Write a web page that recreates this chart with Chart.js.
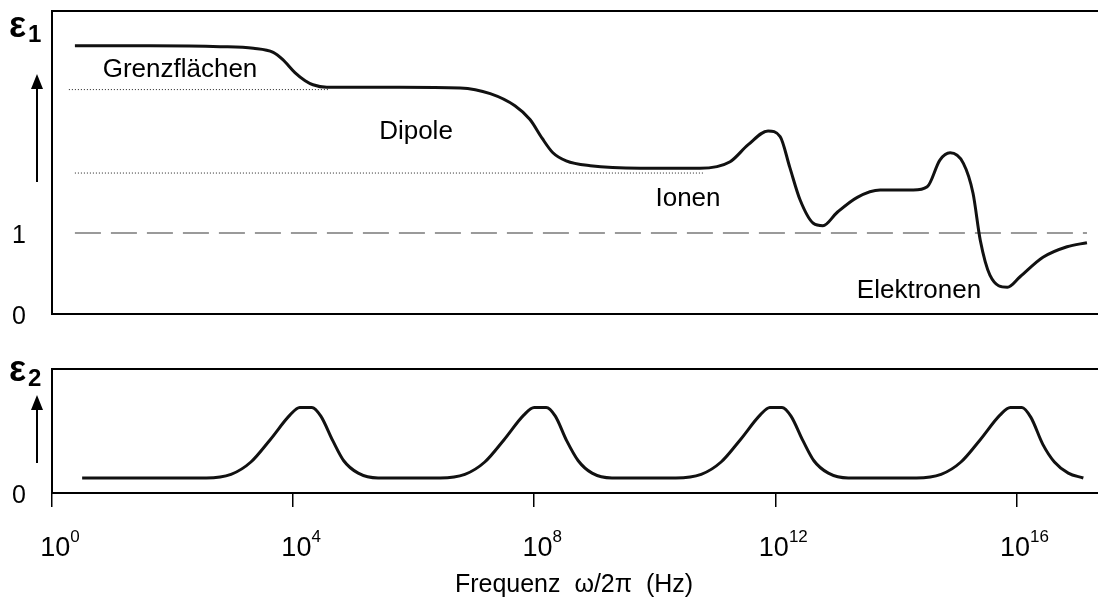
<!DOCTYPE html>
<html>
<head>
<meta charset="utf-8">
<script src="https://cdn.jsdelivr.net/npm/chart.js@4.4.1/dist/chart.umd.min.js"></script>
<style>
 html, body { margin: 0; padding: 0; background: #fff; overflow: hidden; }
 #wrap { position: relative; width: 1098px; height: 610px; }
 canvas { position: absolute; left: 0; }
 #eps1Chart { top: 0; }
 #eps2Chart { top: 330px; }
</style>
</head>
<body>
<div id="wrap">
 <canvas id="eps1Chart" width="1098" height="330"></canvas>
 <canvas id="eps2Chart" width="1098" height="280"></canvas>
</div>
<script>
// x values are log10 of the frequency in Hz
const xTicks = [0, 4, 8, 12, 16];

// real part eps1
const eps1X = [0.38, 1.63, 2.79, 3.34, 3.67, 3.83, 4.03, 4.20, 4.33, 4.56, 5.77, 6.77, 7.27, 7.68, 7.93, 8.13, 8.31, 8.53, 8.93, 9.76, 10.75, 11.25, 11.55, 11.88, 12.08, 12.24, 12.41, 12.63, 12.79, 13.02, 13.36, 13.74, 14.29, 14.52, 14.73, 14.90, 15.12, 15.28, 15.40, 15.56, 15.85, 16.06, 16.44, 16.84, 17.17];
const eps1Y = [3.31, 3.31, 3.30, 3.28, 3.23, 3.14, 2.98, 2.88, 2.83, 2.80, 2.80, 2.79, 2.72, 2.57, 2.40, 2.17, 1.99, 1.89, 1.83, 1.80, 1.80, 1.88, 2.09, 2.26, 2.19, 1.81, 1.41, 1.12, 1.09, 1.25, 1.44, 1.53, 1.53, 1.57, 1.90, 1.99, 1.86, 1.49, 0.91, 0.48, 0.33, 0.46, 0.70, 0.83, 0.88];

// dotted plateau levels and the eps = 1 line
const plateauLevels = [2.77, 1.74];
const plateauFrom = [0.28, 0.38];
const plateauTo = [4.61, 10.83];
const vacuumLevel = 1;
const vacuumRange = [0.38, 17.17];

// imaginary part eps2 (loss peaks)
const eps2X = [0.50,
 2.56, 2.97, 3.30, 3.62, 3.95, 4.11, 4.31, 4.46, 4.66, 4.84, 5.08, 5.41,
 6.44, 6.85, 7.18, 7.50, 7.83, 8.00, 8.20, 8.35, 8.54, 8.73, 8.96, 9.29,
 10.35, 10.77, 11.10, 11.42, 11.75, 11.91, 12.11, 12.26, 12.46, 12.64, 12.88, 13.21,
 14.34, 14.75, 15.08, 15.40, 15.73, 15.90, 16.09, 16.24, 16.44, 16.63, 16.86, 17.11];
const eps2Y = [0.121,
 0.121, 0.15, 0.25, 0.43, 0.63, 0.69, 0.69, 0.62, 0.42, 0.26, 0.16, 0.121,
 0.121, 0.15, 0.25, 0.43, 0.63, 0.69, 0.69, 0.62, 0.42, 0.26, 0.16, 0.121,
 0.121, 0.15, 0.25, 0.43, 0.63, 0.69, 0.69, 0.62, 0.42, 0.26, 0.16, 0.121,
 0.121, 0.15, 0.25, 0.43, 0.63, 0.69, 0.69, 0.61, 0.39, 0.25, 0.16, 0.121];

const mechanisms = [
 { text: "Grenzflächen", x: 180, y: 77 },
 { text: "Dipole", x: 416, y: 139 },
 { text: "Ionen", x: 688, y: 206 },
 { text: "Elektronen", x: 919, y: 298 },
];

const FONT = '"Liberation Sans", Arial, sans-serif';
const pts = (xs, ys) => xs.map((x, i) => ({ x: x, y: ys[i] }));

function arrow(ctx, x, yBottom, yTip) {
 ctx.beginPath();
 ctx.moveTo(x, yBottom);
 ctx.lineTo(x, yTip + 12);
 ctx.lineWidth = 2;
 ctx.stroke();
 ctx.beginPath();
 ctx.moveTo(x, yTip);
 ctx.lineTo(x - 6, yTip + 15);
 ctx.lineTo(x + 6, yTip + 15);
 ctx.closePath();
 ctx.fill();
}

function epsLabel(ctx, sub, x, y) {
 ctx.textAlign = "left";
 ctx.textBaseline = "alphabetic";
 ctx.font = "bold 36px " + FONT;
 ctx.fillText("ε", x, y);
 ctx.font = "bold 24px " + FONT;
 ctx.fillText(sub, x + 19, y + 5);
}

function frame(chart) {
 const { ctx, chartArea: a } = chart;
 ctx.strokeStyle = "#000";
 ctx.fillStyle = "#000";
 ctx.lineWidth = 2;
 ctx.beginPath();
 ctx.moveTo(chart.width + 2, a.top);
 ctx.lineTo(a.left, a.top);
 ctx.lineTo(a.left, a.bottom);
 ctx.lineTo(chart.width + 2, a.bottom);
 ctx.stroke();
}

const frameTop = {
 id: "frameTop",
 afterDraw(chart) {
  const ctx = chart.ctx;
  ctx.save();
  frame(chart);
  arrow(ctx, 37, 182, 74);
  epsLabel(ctx, "1", 9, 37);
  ctx.font = "26px " + FONT;
  ctx.textAlign = "center";
  ctx.textBaseline = "alphabetic";
  mechanisms.forEach(m => ctx.fillText(m.text, m.x, m.y));
  ctx.restore();
 },
};

const frameBottom = {
 id: "frameBottom",
 afterDraw(chart) {
  const ctx = chart.ctx;
  const sc = chart.scales.x;
  ctx.save();
  frame(chart);
  arrow(ctx, 37, 133, 65);
  epsLabel(ctx, "2", 9, 51);
  // tick labels 10^n
  ctx.textAlign = "left";
  ctx.textBaseline = "alphabetic";
  xTicks.forEach(v => {
   const px = sc.getPixelForValue(v);
   ctx.font = "27px " + FONT;
   const wb = ctx.measureText("10").width;
   ctx.font = "17px " + FONT;
   const we = ctx.measureText(String(v)).width;
   const x0 = px + 8 - (wb + we) / 2;
   ctx.font = "27px " + FONT;
   ctx.fillText("10", x0, 226);
   ctx.font = "17px " + FONT;
   ctx.fillText(String(v), x0 + wb, 212);
  });
  ctx.restore();
 },
};

const yAxis = (max, values, offset) => ({
 min: 0,
 max: max,
 afterBuildTicks: s => { s.ticks = values.map(v => ({ value: v })); },
 afterFit: s => {
  s.width = 52;
  s.paddingTop = 0;
  s.paddingBottom = 0;
 },
 grid: { display: false, drawTicks: false },
 border: { display: false },
 ticks: {
  padding: 26,
  labelOffset: offset,
  color: "#000",
  font: { family: FONT, size: 25 },
  callback: v => String(v),
 },
});

const common = {
 responsive: false,
 animation: false,
 events: [],
 plugins: { legend: { display: false }, tooltip: { enabled: false } },
};

new Chart(document.getElementById("eps1Chart").getContext("2d"), {
 type: "line",
 data: {
  datasets: [
   {
    data: pts(eps1X, eps1Y),
    borderColor: "#111",
    borderWidth: 3,
    pointRadius: 0,
    cubicInterpolationMode: "monotone",
    order: 0,
   },
   {
    data: pts([vacuumRange[0], vacuumRange[1]], [vacuumLevel, vacuumLevel]),
    borderColor: "#9a9a9a",
    borderWidth: 2,
    borderDash: [26, 10],
    pointRadius: 0,
    order: 2,
   },
   ...plateauLevels.map((lv, i) => ({
    data: pts([plateauFrom[i], plateauTo[i]], [lv, lv]),
    borderColor: "#222",
    borderWidth: 1,
    borderDash: [1, 2],
    pointRadius: 0,
    order: 1,
   })),
  ],
 },
 options: {
  ...common,
  layout: { padding: { top: 11, right: 2, bottom: 16, left: 0 } },
  scales: {
   x: { type: "linear", min: 0, max: 17.32, display: false },
   y: yAxis(3.74, [0, 1], 3),
  },
 },
 plugins: [frameTop],
});

new Chart(document.getElementById("eps2Chart").getContext("2d"), {
 type: "line",
 data: {
  datasets: [
   {
    data: pts(eps2X, eps2Y),
    borderColor: "#111",
    borderWidth: 3,
    pointRadius: 0,
    cubicInterpolationMode: "monotone",
   },
  ],
 },
 options: {
  ...common,
  layout: { padding: { top: 39, right: 2, bottom: 0, left: 0 } },
  scales: {
   x: {
    type: "linear",
    min: 0,
    max: 17.32,
    afterBuildTicks: s => { s.ticks = xTicks.map(v => ({ value: v })); },
    afterFit: s => { s.height = 117; },
    grid: { drawOnChartArea: false, drawTicks: true, tickLength: 14, color: "#000", lineWidth: 1.5 },
    border: { display: false },
    ticks: { display: false },
    title: {
     display: true,
     text: "Frequenz  ω/2π  (Hz)",
     color: "#000",
     font: { family: FONT, size: 25 },
     padding: { top: 0, bottom: 10 },
    },
   },
   y: yAxis(1, [0], 3),
  },
 },
 plugins: [frameBottom],
});
</script>
</body>
</html>
